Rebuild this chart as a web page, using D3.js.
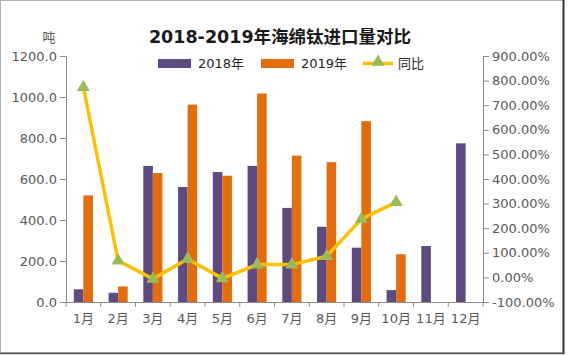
<!DOCTYPE html>
<html><head><meta charset="utf-8">
<script src="https://cdnjs.cloudflare.com/ajax/libs/d3/7.8.5/d3.min.js"></script>
<style>
body{margin:0;padding:0;background:#fff;}
svg{display:block;font-family:"DejaVu Sans","Noto Sans CJK SC",sans-serif;}
</style></head>
<body><svg id="c" width="568" height="355"></svg>
<script>
const months = ["1月","2月","3月","4月","5月","6月","7月","8月","9月","10月","11月","12月"];
const series2018 = [62, 45, 664, 561, 634, 664, 459, 367, 265, 58, 273, 774];
const series2019 = [520, 76, 629, 963, 616, 1017, 714, 682, 882, 233, null, null];
const yoy = [773, 68, -6, 75, -4, 52, 52, 86, 237, 306];
const leftTicks = [0, 200, 400, 600, 800, 1000, 1200];
const rightTicks = [-100, 0, 100, 200, 300, 400, 500, 600, 700, 800, 900];
const seriesNames = ["2018年", "2019年", "同比"];
const colors = ["#5E4A80", "#E46C0A", "#FFC000", "#9BBB59"];

const svg = d3.select("#c");
const L = 66, R = 483, T = 56, B = 302;

// border
svg.append("rect").attr("x",0.5).attr("y",0.5).attr("width",563).attr("height",352)
  .attr("fill","#fff").attr("stroke","#b0b0b0");
svg.append("line").attr("x1",563.5).attr("x2",563.5).attr("y1",0).attr("y2",354).attr("stroke","#333").attr("stroke-width",2);
svg.append("line").attr("x1",0).attr("x2",564).attr("y1",353.5).attr("y2",353.5).attr("stroke","#555").attr("stroke-width",1.5);

const x = d3.scaleBand().domain(months).range([L, R]).padding(0);
const yL = d3.scaleLinear().domain([0, 1200]).range([B, T]);
const yR = d3.scaleLinear().domain([-100, 900]).range([B, T]);

const bw = x.bandwidth() * 0.275;

// bars
const g = svg.append("g");
g.selectAll(".b18").data(series2018).join("rect")
  .attr("x", (d,i) => x(months[i]) + x.bandwidth()/2 - bw)
  .attr("y", d => yL(d)).attr("width", bw).attr("height", d => B - yL(d))
  .attr("fill", colors[0]);
g.selectAll(".b19").data(series2019.map((v,i)=>({v,i})).filter(d=>d.v!=null)).join("rect")
  .attr("x", d => x(months[d.i]) + x.bandwidth()/2)
  .attr("y", d => yL(d.v)).attr("width", bw).attr("height", d => B - yL(d.v))
  .attr("fill", colors[1]);

// axes
const axisColor = "#8c8c8c", textColor = "#595959";
const la = svg.append("g").attr("transform",`translate(${L},0)`)
  .call(d3.axisLeft(yL).tickValues(leftTicks).tickFormat(d3.format(".1f")).tickSizeOuter(0).tickSize(6).tickPadding(3));
const ra = svg.append("g").attr("transform",`translate(${R},0)`)
  .call(d3.axisRight(yR).tickValues(rightTicks).tickFormat(d => d.toFixed(2) + "%").tickSizeOuter(0).tickSize(6).tickPadding(3));
const xa = svg.append("g").attr("transform",`translate(0,${B})`)
  .call(d3.axisBottom(x).tickSize(0).tickPadding(12));
// x boundary ticks
svg.append("g").selectAll("line").data(d3.range(months.length + 1)).join("line")
  .attr("x1", i => L + i * x.step()).attr("x2", i => L + i * x.step())
  .attr("y1", B).attr("y2", B + 5).attr("stroke", axisColor);
[la, ra, xa].forEach(a => {
  a.selectAll("path, line").attr("stroke", axisColor);
  a.selectAll("text").attr("fill", textColor).style("font-size","13px").style("font-family","'DejaVu Sans','Noto Sans CJK SC',sans-serif");
});

// line
const pts = yoy.map((v,i) => [x(months[i]) + x.bandwidth()/2, yR(v)]);
svg.append("path").attr("d", d3.line()(pts)).attr("fill","none")
  .attr("stroke", colors[2]).attr("stroke-width", 3.5).attr("stroke-linejoin","round");
const tri = d3.symbol().type(d3.symbolTriangle).size(75);
svg.append("g").selectAll("path").data(pts).join("path")
  .attr("transform", d => `translate(${d[0]},${d[1]})`).attr("d", tri).attr("fill", colors[3]);

// title
svg.append("text").attr("x", 280).attr("y", 43).attr("text-anchor","middle")
  .style("font-size","17.5px").style("font-weight","bold").attr("fill","#1a1a1a")
  .text("2018-2019年海绵钛进口量对比");
svg.append("text").attr("x", 49).attr("y", 42).attr("text-anchor","middle")
  .style("font-size","13px").attr("fill", textColor).text("吨");

// legend
const lg = svg.append("g");
lg.append("rect").attr("x",158).attr("y",59).attr("width",33).attr("height",9).attr("fill",colors[0]);
lg.append("text").attr("x",198).attr("y",68).style("font-size","13px").attr("fill","#262626").text(seriesNames[0]);
lg.append("rect").attr("x",261).attr("y",59).attr("width",33).attr("height",9).attr("fill",colors[1]);
lg.append("text").attr("x",301).attr("y",68).style("font-size","13px").attr("fill","#262626").text(seriesNames[1]);
lg.append("line").attr("x1",363).attr("x2",393).attr("y1",63.5).attr("y2",63.5).attr("stroke",colors[2]).attr("stroke-width",3.5);
lg.append("path").attr("transform","translate(378,62)").attr("d",tri).attr("fill",colors[3]);
lg.append("text").attr("x",398).attr("y",68).style("font-size","13px").attr("fill","#262626").text(seriesNames[2]);
</script></body></html>
